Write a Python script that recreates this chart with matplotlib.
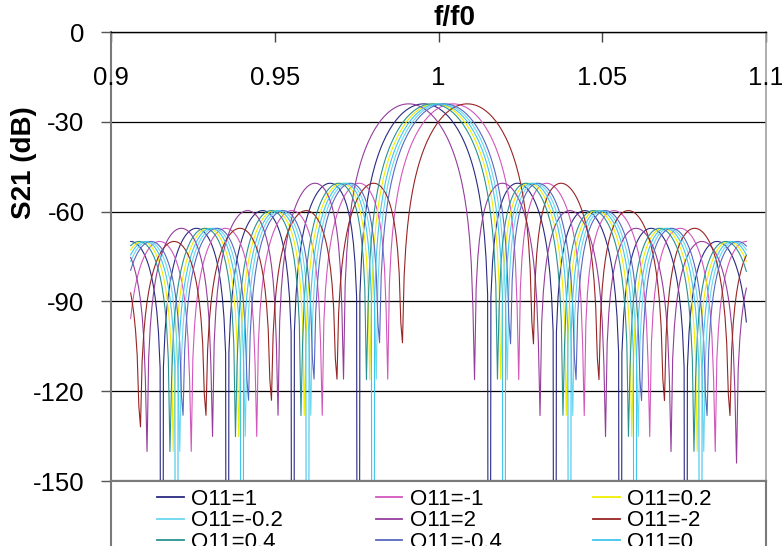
import matplotlib
matplotlib.use("Agg")
import matplotlib.pyplot as plt
import numpy as np
from matplotlib.lines import Line2D
from matplotlib.patches import Rectangle

plt.rcParams["font.family"] = ["Liberation Sans", "DejaVu Sans"]

# Series: legend text, line colour, centre of the main lobe (f/f0)
labels = ["O11=1", "O11=-1", "O11=0.2", "O11=-0.2", "O11=2", "O11=-2",
          "O11=0.4", "O11=-0.4", "O11=0"]
colours = ["#2a2a82", "#d257bc", "#f2ee00", "#6ad8ee", "#953d9c", "#972424",
           "#2a9292", "#5868c2", "#40c6ee"]
centres = [0.9955, 1.0044, 0.9991, 1.0009, 0.9909, 1.0088, 0.9981, 1.0018, 1.0000]

# Shared sinc^2 response shape
peak_db = -24.0        # top of the main lobe
lobe_width = 0.02      # spacing between nulls, f/f0
f_first, f_last = 0.906, 1.094
f_step = 0.0005

y_ticks = [-150, -120, -90, -60, -30, 0]
x_ticks = [0.9, 0.95, 1.0, 1.05, 1.1]
x_ticklabels = ["0.9", "0.95", "1", "1.05", "1.1"]

W, H = 782, 546


def fx(px):
    return px / W


def fy(py):
    return 1.0 - py / H


fig = plt.figure(figsize=(W / 100, H / 100), dpi=100)
ax = fig.add_axes([fx(111), fy(481), (766 - 111) / W, (481 - 32) / H])

f = np.arange(f_first, f_last + f_step / 2, f_step)
for lab, col, fc in zip(labels, colours, centres):
    mag = np.abs(np.sinc((f - fc) / lobe_width))
    s21 = peak_db + 40.0 * np.log10(np.maximum(mag, 1e-12))
    ax.plot(f, s21, color=col, lw=0.8, label=lab, zorder=3)

ax.set_xlim(0.9, 1.1)
ax.set_ylim(-150, 0)

# --- spines / grid ---
ax.spines["top"].set_color("black")
ax.spines["top"].set_linewidth(1.0)
ax.spines["left"].set_color("#7a7a7a")
ax.spines["left"].set_linewidth(1.5)
ax.spines["right"].set_color("#a0a0a0")
ax.spines["right"].set_linewidth(1.2)
ax.spines["bottom"].set_color("#7a7a7a")
ax.spines["bottom"].set_linewidth(1.6)
ax.set_axisbelow(True)
ax.grid(axis="y", color="black", lw=0.9)

# y axis: ticks outward on the left
ax.set_yticks(y_ticks)
ax.set_yticklabels([str(v) for v in y_ticks])
ax.tick_params(axis="y", direction="out", length=7.5, width=1.0, color="#555555",
               labelsize=18.5, pad=11.5, right=False)

# x axis on top, ticks inward, labels under the axis line
ax.set_xticks(x_ticks)
ax.tick_params(axis="x", bottom=False, top=True, labelbottom=False, labeltop=False,
               direction="in", length=7, width=1.0, color="#444444")
for xv, txt in zip(x_ticks, x_ticklabels):
    ax.text(xv, 1 - (85 - 32) / 449, txt, transform=ax.get_xaxis_transform(),
            ha="center", va="baseline", fontsize=18.5, zorder=4)

fig.text(fx(454), fy(18), "f/f0", ha="center", va="center", fontsize=20,
         fontweight="bold")
fig.text(fx(24), fy(163), "S21 (dB)", rotation=90, ha="center", va="center",
         fontsize=20, fontweight="bold")

# --- legend box below the plot area, 3 columns filled row by row ---
fig.add_artist(Rectangle((fx(111), fy(560)), (766 - 111) / W, (560 - 481) / H,
                         transform=fig.transFigure, facecolor="white",
                         edgecolor="#7a7a7a", lw=1.5, clip_on=False))
col_x = [157, 376, 593]
row_y = [497, 518.6, 540.2]
for i, (lab, col) in enumerate(zip(labels, colours)):
    r, c = divmod(i, 3)
    x0, y0 = col_x[c], row_y[r]
    fig.add_artist(Line2D([fx(x0), fx(x0 + 26.5)], [fy(y0), fy(y0)],
                          transform=fig.transFigure, color=col, lw=1.3))
    fig.text(fx(x0 + 34), fy(y0 + 7.6), lab, ha="left", va="baseline", fontsize=16)

fig.savefig("out.png", dpi=100)
